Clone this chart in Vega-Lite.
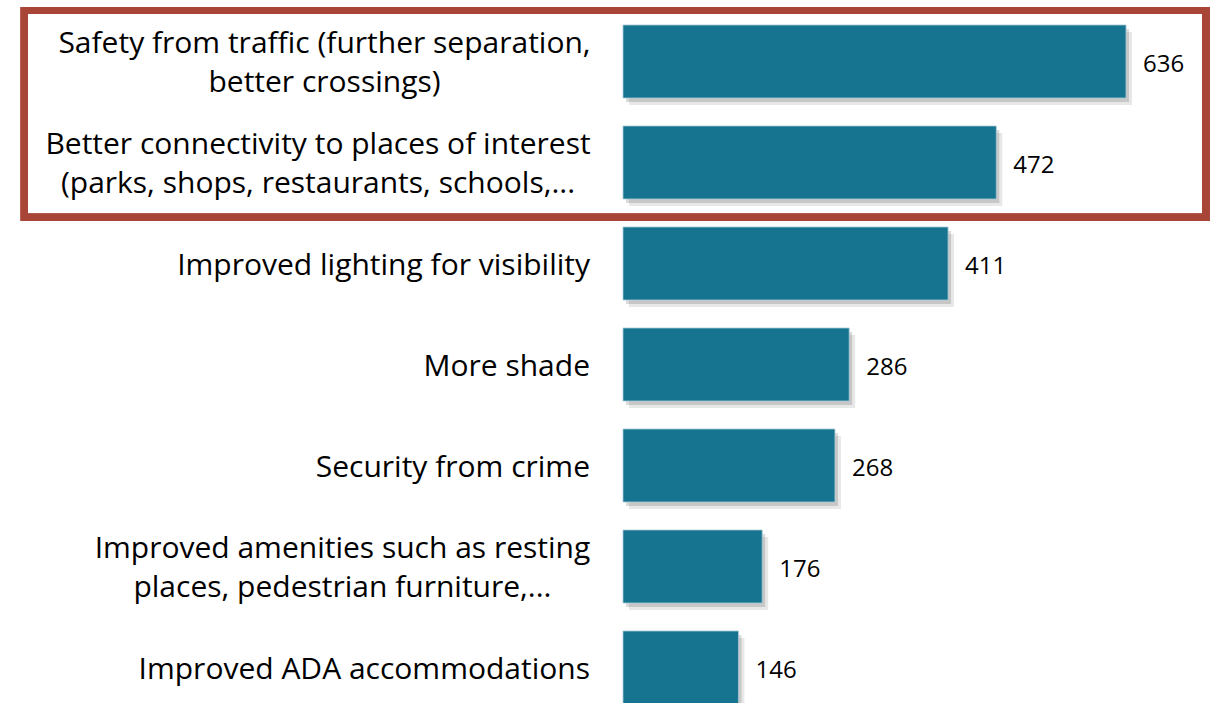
{
  "$schema": "https://vega.github.io/schema/vega-lite/v6.json",
  "width": 595,
  "height": 692,
  "autosize": "none",
  "padding": {"left": 623, "top": 11, "right": 0, "bottom": 0},
  "background": "white",
  "config": {"view": {"stroke": null}, "font": "Open Sans"},
  "data": {
    "values": [
      {"item": "Safety from traffic (further separation,\nbetter crossings)", "count": 636},
      {"item": "Better connectivity to places of interest\n(parks, shops, restaurants, schools,...", "count": 472},
      {"item": "Improved lighting for visibility", "count": 411},
      {"item": "More shade", "count": 286},
      {"item": "Security from crime", "count": 268},
      {"item": "Improved amenities such as resting\nplaces, pedestrian furniture,...", "count": 176},
      {"item": "Improved ADA accommodations", "count": 146}
    ]
  },
  "encoding": {
    "y": {
      "field": "item",
      "type": "nominal",
      "sort": null,
      "axis": null,
      "scale": {"range": [0, 707], "paddingInner": 0.277, "paddingOuter": 0.1385}
    }
  },
  "layer": [
    {
      "mark": {"type": "bar", "color": "#000000", "opacity": 0.09, "xOffset": 6, "yOffset": 7},
      "encoding": {
        "x": {"field": "count", "type": "quantitative", "axis": null, "scale": {"domain": [0, 752.3], "nice": false, "zero": true}}
      }
    },
    {
      "mark": {"type": "bar", "color": "#000000", "opacity": 0.14, "xOffset": 3, "yOffset": 4},
      "encoding": {
        "x": {"field": "count", "type": "quantitative"}
      }
    },
    {
      "mark": {"type": "bar", "color": "#177491", "stroke": "#a9cad6", "strokeWidth": 0.8},
      "encoding": {
        "x": {"field": "count", "type": "quantitative"}
      }
    },
    {
      "mark": {"type": "text", "align": "left", "baseline": "middle", "dx": 17, "dy": 3, "fontSize": 24, "color": "#000000"},
      "encoding": {
        "x": {"field": "count", "type": "quantitative"},
        "text": {"field": "count", "type": "quantitative"}
      }
    },
    {
      "transform": [{"filter": "indexof(datum.item, '\\n') < 0"}],
      "mark": {"type": "text", "align": "right", "baseline": "middle", "dx": -33, "dy": 2, "fontSize": 30, "color": "#000000"},
      "encoding": {
        "x": {"datum": 0, "type": "quantitative"},
        "text": {"field": "item"}
      }
    },
    {
      "transform": [{"filter": "indexof(datum.item, 'Safety') == 0"}],
      "mark": {"type": "text", "align": "center", "baseline": "middle", "lineBreak": "\n", "lineHeight": 39, "dy": -18, "fontSize": 30, "color": "#000000"},
      "encoding": {
        "x": {"datum": -377.4, "type": "quantitative"},
        "text": {"field": "item"}
      }
    },
    {
      "transform": [{"filter": "indexof(datum.item, 'Better') == 0"}],
      "mark": {"type": "text", "align": "center", "baseline": "middle", "lineBreak": "\n", "lineHeight": 39, "dy": -18, "fontSize": 30, "color": "#000000"},
      "encoding": {
        "x": {"datum": -385.6, "type": "quantitative"},
        "text": {"field": "item"}
      }
    },
    {
      "transform": [{"filter": "indexof(datum.item, 'Improved amenities') == 0"}],
      "mark": {"type": "text", "align": "center", "baseline": "middle", "lineBreak": "\n", "lineHeight": 39, "dy": -18, "fontSize": 30, "color": "#000000"},
      "encoding": {
        "x": {"datum": -354.7, "type": "quantitative"},
        "text": {"field": "item"}
      }
    },
    {
      "mark": {"type": "rect", "fill": null, "stroke": "#A84537", "strokeWidth": 7},
      "encoding": {
        "x": {"datum": -757, "type": "quantitative"},
        "x2": {"datum": 737},
        "y": {"datum": "Safety from traffic (further separation,\nbetter crossings)", "bandPosition": -0.2},
        "y2": {"datum": "Better connectivity to places of interest\n(parks, shops, restaurants, schools,...", "bandPosition": 1.25}
      }
    }
  ]
}
